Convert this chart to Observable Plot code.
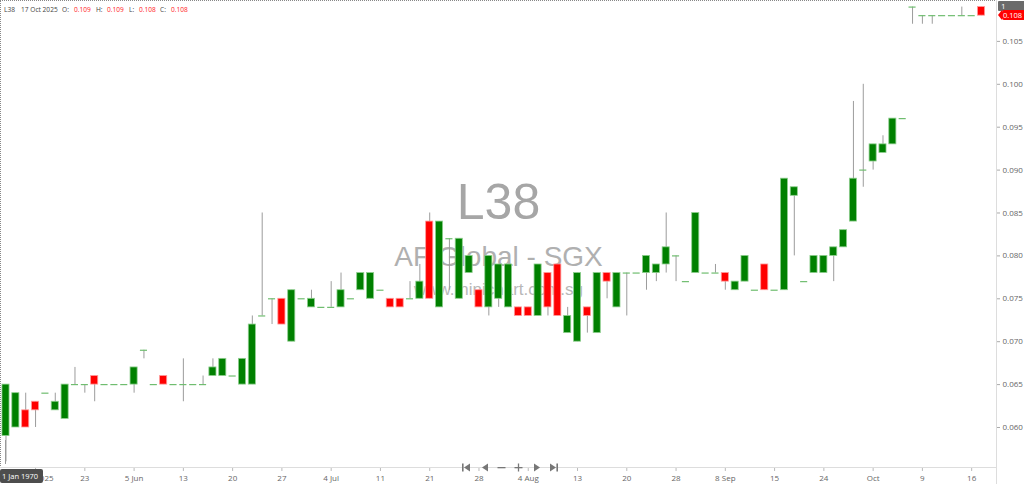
<!DOCTYPE html>
<html>
<head>
<meta charset="utf-8">
<script src="https://cdn.jsdelivr.net/npm/d3@7"></script>
<script src="https://cdn.jsdelivr.net/npm/@observablehq/plot@0.6"></script>
<style>
  html, body { margin: 0; padding: 0; background: #fff; }
  #wrap { position: relative; width: 1024px; height: 484px; overflow: hidden; font-family: "Open Sans", "Liberation Sans", sans-serif; }
  #chart { position: absolute; left: 0; top: 0; }
  .abs { position: absolute; white-space: nowrap; }
  .hdr { font-size: 6.6px; color: #444; top: 5px; }
  .hdr.v { color: #ff2020; }
  .nav { top: 455px; }
</style>
</head>
<body>
<div id="wrap">
  <div id="chart"></div>
</div>
<script>
// ---- data ----
const opens  = [0.059,0.060,0.062,0.063,0.064,0.062,0.061,0.065,0.065,0.066,
                0.065,0.065,0.065,0.065,0.069,0.065,0.066,0.065,0.065,0.065,
                0.065,0.066,0.066,0.066,0.065,0.065,0.073,0.075,0.075,0.070,
                0.075,0.074,0.074,0.074,0.074,0.075,0.076,0.075,0.076,0.075,
                0.075,0.075,0.075,0.084,0.074,0.082,0.075,0.078,0.076,0.074,
                0.075,0.074,0.074,0.074,0.073,0.078,0.079,0.071,0.070,0.074,
                0.071,0.078,0.074,0.078,0.078,0.078,0.078,0.079,0.080,0.077,
                0.078,0.078,0.078,0.078,0.076,0.077,0.076,0.079,0.076,0.076,
                0.087,0.077,0.078,0.078,0.080,0.081,0.084,0.090,0.091,0.092,
                0.093,0.096,0.109,0.108,0.108,0.108,0.108,0.108,0.108,0.109];
const highs  = [0.065,0.064,0.064,0.063,0.064,0.064,0.065,0.067,0.065,0.066,
                0.065,0.065,0.065,0.067,0.069,0.065,0.066,0.065,0.068,0.065,
                0.066,0.068,0.068,0.066,0.068,0.073,0.085,0.075,0.075,0.076,
                0.075,0.076,0.074,0.077,0.078,0.075,0.078,0.078,0.076,0.075,
                0.075,0.077,0.079,0.085,0.084,0.082,0.082,0.080,0.076,0.080,
                0.079,0.079,0.074,0.074,0.079,0.078,0.079,0.074,0.078,0.074,
                0.078,0.078,0.078,0.078,0.078,0.080,0.079,0.085,0.080,0.077,
                0.085,0.078,0.079,0.078,0.077,0.080,0.076,0.079,0.076,0.089,
                0.088,0.077,0.080,0.080,0.081,0.083,0.098,0.100,0.093,0.094,
                0.096,0.096,0.109,0.108,0.108,0.108,0.108,0.109,0.108,0.109];
const lows   = [0.056,0.060,0.060,0.060,0.064,0.062,0.061,0.065,0.064,0.063,
                0.065,0.065,0.065,0.064,0.068,0.065,0.065,0.065,0.063,0.065,
                0.065,0.066,0.066,0.066,0.065,0.065,0.073,0.072,0.072,0.070,
                0.075,0.074,0.074,0.074,0.074,0.075,0.076,0.075,0.076,0.074,
                0.074,0.075,0.075,0.075,0.074,0.076,0.075,0.078,0.074,0.073,
                0.074,0.074,0.073,0.073,0.073,0.073,0.073,0.071,0.070,0.071,
                0.071,0.075,0.074,0.073,0.078,0.076,0.077,0.078,0.077,0.077,
                0.078,0.078,0.078,0.076,0.076,0.077,0.076,0.076,0.076,0.076,
                0.080,0.077,0.078,0.078,0.077,0.081,0.084,0.088,0.090,0.092,
                0.093,0.096,0.107,0.107,0.107,0.108,0.108,0.108,0.108,0.108];
const closes = [0.065,0.064,0.060,0.062,0.064,0.063,0.065,0.065,0.065,0.065,
                0.065,0.065,0.065,0.067,0.069,0.065,0.065,0.065,0.065,0.065,
                0.065,0.067,0.068,0.066,0.068,0.072,0.073,0.075,0.072,0.076,
                0.075,0.075,0.074,0.074,0.076,0.075,0.078,0.078,0.076,0.074,
                0.074,0.075,0.077,0.075,0.084,0.082,0.082,0.080,0.074,0.080,
                0.079,0.079,0.073,0.073,0.079,0.074,0.073,0.073,0.078,0.073,
                0.078,0.077,0.078,0.078,0.078,0.080,0.079,0.081,0.080,0.077,
                0.085,0.078,0.078,0.077,0.077,0.080,0.076,0.076,0.076,0.089,
                0.088,0.077,0.080,0.080,0.081,0.083,0.089,0.090,0.093,0.093,
                0.096,0.096,0.109,0.108,0.108,0.108,0.108,0.108,0.108,0.108];

const xTickIndex  = [3,8,13,18,23,28,33,38,43,48,53,58,63,68,73,78,83,88,93,98];
const xTickLabels = ["May 2025","23","5 Jun","13","20","27","4 Jul","11","21","28",
                     "4 Aug","13","20","28","8 Sep","15","24","Oct","9","16"];
const yTicks = [0.060,0.065,0.070,0.075,0.080,0.085,0.090,0.095,0.100,0.105];

const symbol = "L38";
const company = "AF Global - SGX";
const site = "www.minichart.com.sg";
const lastDate = "17 Oct 2025";

// ---- build table ----
const candles = opens.map((o, i) => ({i, o, h: highs[i], l: lows[i], c: closes[i]}));
const bodies = candles.filter(d => d.o !== d.c);
const dojis = candles.filter(d => d.o === d.c);
const half = 0.36;

const chart = Plot.plot({
  width: 1024,
  height: 484,
  marginTop: 0,
  marginBottom: 16,
  marginLeft: 0,
  marginRight: 28,
  style: {background: "transparent", fontFamily: "'Open Sans', sans-serif"},
  x: {type: "linear", domain: [-0.558, 100.52]},
  y: {domain: [0.055221, 0.109767]},
  marks: [
    Plot.text([symbol], {frameAnchor: "middle", text: d => d, dy: -32, fontSize: 50,
      fill: "#a6a6a6", fontFamily: "'Liberation Sans', Arial, sans-serif", lineAnchor: "middle"}),
    Plot.text([company], {frameAnchor: "middle", text: d => d, dy: 23, fontSize: 28,
      fill: "#b0b0b0", fontFamily: "'Liberation Sans', Arial, sans-serif", lineAnchor: "middle"}),
    Plot.text([site], {frameAnchor: "middle", text: d => d, dy: 55, fontSize: 17,
      fill: "#b8b8b8", fontFamily: "'Liberation Sans', Arial, sans-serif", lineAnchor: "middle"}),
    Plot.ruleX(candles.filter(d => d.h !== d.l), {x: "i", y1: "l", y2: "h", stroke: "#9c9c9c", strokeWidth: 1}),
    Plot.rect(bodies, {
      x1: d => d.i - half, x2: d => d.i + half, y1: "o", y2: "c",
      fill: d => d.c > d.o ? "#008000" : "#ff0000",
      stroke: d => d.c > d.o ? "#8fcf8f" : "#ff9a9a", strokeWidth: 0.8
    }),
    Plot.ruleY(dojis, {y: "c", x1: d => d.i - half, x2: d => d.i + half, stroke: "#6fbd6f", strokeWidth: 1.2}),
    Plot.axisY({anchor: "right", ticks: yTicks, tickFormat: d3.format(".3f"), tickSize: 3,
      tickPadding: 3, fontSize: 8, color: "#666", stroke: "#aaa", label: null}),
    Plot.axisX({anchor: "bottom", ticks: xTickIndex,
      tickFormat: d => xTickLabels[xTickIndex.indexOf(d)], tickSize: 3, tickPadding: 4,
      fontSize: 8, color: "#666", stroke: "#bbb", label: null})
  ]
});
document.getElementById("chart").appendChild(chart);

// ---- decorations (frame lines, header, labels) ----
const wrap = document.getElementById("wrap");
function add(html, css, cls) {
  const el = document.createElement("div");
  el.className = "abs " + (cls || "");
  el.innerHTML = html;
  Object.assign(el.style, css);
  wrap.appendChild(el);
  return el;
}
// borders
add("", {left: "0px", top: "0px", width: "997px", height: "0px", borderTop: "1px dotted #888"});
add("", {left: "0px", top: "0px", width: "0px", height: "468px", borderLeft: "1px dotted #888"});
add("", {left: "996px", top: "0px", width: "0px", height: "484px", borderLeft: "1px solid #ddd"});
add("", {left: "0px", top: "467px", width: "997px", height: "0px", borderTop: "1px solid #ddd"});

// header
const last = candles[candles.length - 1];
const f3 = d3.format(".3f");
const hdrItems = [
  [symbol, 4, false], [lastDate, 21, false], ["O:", 62, false], [f3(last.o), 74, true],
  ["H:", 96, false], [f3(last.h), 107, true], ["L:", 129, false], [f3(last.l), 139, true],
  ["C:", 160, false], [f3(last.c), 171, true]
];
hdrItems.forEach(([t, x, v]) => add(t, {left: x + "px"}, "hdr" + (v ? " v" : "")));

// right-top markers
add("1", {left: "998px", top: "1px", width: "24px", height: "10px", background: "#6b6b6b",
  color: "#fff", fontSize: "8px", lineHeight: "10px", paddingLeft: "3px", borderRadius: "1px"});
add("", {left: "998px", top: "10px", width: "0", height: "0", borderTop: "5px solid transparent",
  borderBottom: "5px solid transparent", borderRight: "4px solid #ff0000"});
add(f3(last.c), {left: "1002px", top: "10px", width: "24px", height: "10px", background: "#ff0000",
  color: "#fff", fontSize: "7.5px", lineHeight: "10px", paddingLeft: "1px", borderRadius: "2px"});

// bottom-left crosshair date box
add("", {left: "5px", top: "440px", width: "0px", height: "24px", borderLeft: "1px solid #999"});
add("1 Jan 1970", {left: "0px", top: "469px", width: "41px", height: "14px", background: "#4d4d4d",
  color: "#fff", fontSize: "7.5px", lineHeight: "14px", paddingLeft: "2px", borderRadius: "2px"});

// navigation glyphs (small inline icons)
const g = "#777";
const navIcons = [
  [461, `<svg width="10" height="9"><rect x="1" y="0.5" width="1.6" height="8" fill="${g}"/><path d="M9 0.5 L3 4.5 L9 8.5Z" fill="${g}"/></svg>`],
  [481, `<svg width="8" height="9"><path d="M7 0.5 L1 4.5 L7 8.5Z" fill="${g}"/></svg>`],
  [497, `<svg width="9" height="9"><rect x="0.5" y="4" width="8" height="1.3" fill="${g}"/></svg>`],
  [514, `<svg width="9" height="9"><rect x="0.5" y="4" width="8" height="1.3" fill="${g}"/><rect x="3.85" y="0.5" width="1.3" height="8" fill="${g}"/></svg>`],
  [533, `<svg width="8" height="9"><path d="M1 0.5 L7 4.5 L1 8.5Z" fill="${g}"/></svg>`],
  [549, `<svg width="10" height="9"><path d="M1 0.5 L7 4.5 L1 8.5Z" fill="${g}"/><rect x="7.4" y="0.5" width="1.6" height="8" fill="${g}"/></svg>`]
];
navIcons.forEach(([x, svg]) => add(svg, {left: x + "px"}, "nav"));
</script>
</body>
</html>
